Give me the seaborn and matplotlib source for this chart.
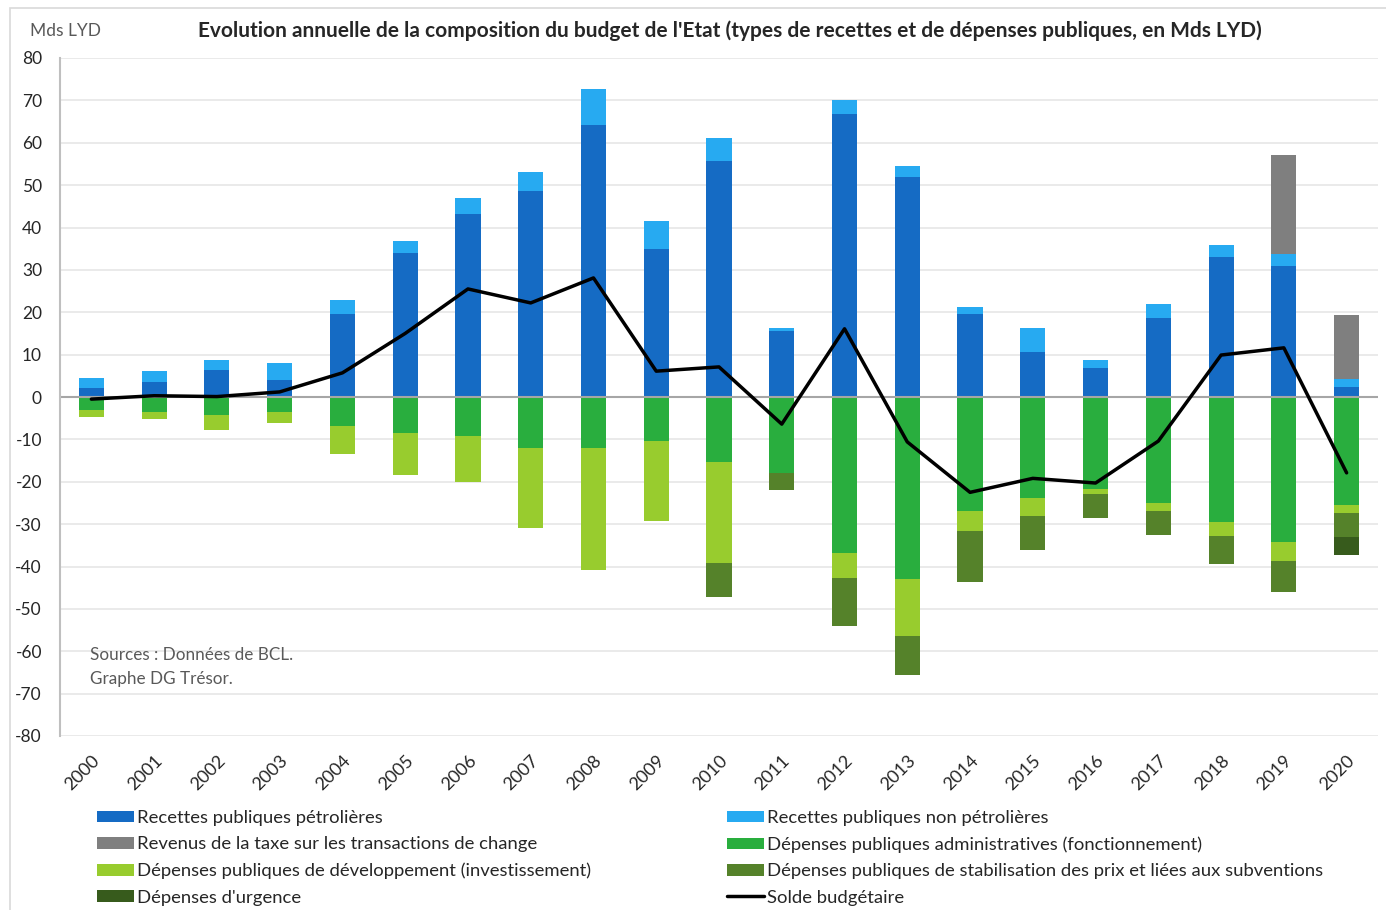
import matplotlib
matplotlib.use("Agg")
import matplotlib.pyplot as plt
from matplotlib.patches import Patch, Rectangle
from matplotlib.lines import Line2D
import seaborn as sns
import pandas as pd
import numpy as np

# Budget de l'Etat libyen, Mds LYD
years = [str(y) for y in range(2000, 2021)]

rec_petrol = [2.1, 3.5, 6.4, 4.0, 19.6, 34.0, 43.3, 48.5, 64.3, 35.0, 55.6,
              15.6, 66.9, 51.8, 19.6, 10.6, 6.9, 18.7, 33.1, 31.0, 2.4]
rec_non_petrol = [2.4, 2.6, 2.3, 4.0, 3.3, 2.9, 3.7, 4.7, 8.5, 6.6, 5.6,
                  0.7, 3.3, 2.8, 1.7, 5.7, 1.8, 3.3, 2.8, 2.8, 1.9]
taxe_change = [0, 0, 0, 0, 0, 0, 0, 0, 0, 0, 0,
               0, 0, 0, 0, 0, 0, 0, 0, 23.4, 15.1]

dep_admin = [-3.1, -3.5, -4.3, -3.5, -6.9, -8.5, -9.2, -12.0, -12.0, -10.3, -15.4,
             -17.9, -36.9, -43.0, -27.0, -23.9, -21.7, -25.1, -29.6, -34.3, -25.5]
dep_dev = [-1.6, -1.6, -3.5, -2.6, -6.6, -9.9, -10.9, -19.0, -28.9, -19.0, -23.8,
           0, -5.7, -13.3, -4.6, -4.2, -1.3, -1.9, -3.3, -4.5, -1.9]
dep_stab = [0, 0, 0, 0, 0, 0, 0, 0, 0, 0, -8.1,
            -4.1, -11.5, -9.2, -12.1, -8.1, -5.6, -5.6, -6.6, -7.3, -5.7]
dep_urgence = [0, 0, 0, 0, 0, 0, 0, 0, 0, 0, 0,
               0, 0, 0, 0, 0, 0, 0, 0, 0, -4.3]

solde = [-0.5, 0.3, 0.1, 1.2, 5.7, 15.0, 25.5, 22.2, 28.1, 6.1, 7.1,
         -6.4, 16.1, -10.6, -22.5, -19.2, -20.3, -10.4, 9.9, 11.6, -17.9]

labels = ["Recettes publiques pétrolières",
          "Recettes publiques non pétrolières",
          "Revenus de la taxe sur les transactions de change",
          "Dépenses publiques administratives (fonctionnement)",
          "Dépenses publiques de développement (investissement)",
          "Dépenses publiques de stabilisation des prix et liées aux subventions",
          "Dépenses d'urgence",
          "Solde budgétaire"]
colors = ["#156BC4", "#27AAF1", "#7F7F7F", "#29AE3E",
          "#98CC2E", "#55822A", "#375B1C", "#000000"]

sns.set_theme(style="white")
plt.rcParams["font.family"] = ["Lato", "DejaVu Sans"]
plt.rcParams["axes.unicode_minus"] = False

fig = plt.figure(figsize=(13.86, 9.1), dpi=100)
ax = fig.add_axes([60 / 1386, 1 - 736 / 910, 1318 / 1386, 678 / 910])

# stacked bars: draw cumulated totals, biggest first
pos = np.cumsum([rec_petrol, rec_non_petrol, taxe_change], axis=0)
neg = np.cumsum([dep_admin, dep_dev, dep_stab, dep_urgence], axis=0)
stacks = [(pos[2], colors[2]), (pos[1], colors[1]), (pos[0], colors[0]),
          (neg[3], colors[6]), (neg[2], colors[5]), (neg[1], colors[4]), (neg[0], colors[3])]
for vals, c in stacks:
    df = pd.DataFrame({"annee": years, "val": vals})
    sns.barplot(data=df, x="annee", y="val", color=c, saturation=1, width=0.4,
                linewidth=0, ax=ax, errorbar=None)

sns.lineplot(x=np.arange(len(years)), y=solde, color="black", linewidth=2.5, ax=ax)

ax.set_xlim(-0.5, 20.5)
ax.set_ylim(-80, 80)
ax.set_yticks(range(-80, 81, 10))
ax.yaxis.grid(True, color="#E6E6E6", linewidth=1.2)
ax.set_axisbelow(True)
ax.axhline(0, color="#A6A6A6", linewidth=1.5, zorder=1.5)
for s in ["top", "right", "bottom"]:
    ax.spines[s].set_visible(False)
ax.spines["left"].set_color("#BFBFBF")
ax.spines["left"].set_linewidth(1.5)
ax.set_xlabel("")
ax.set_ylabel("")
ax.tick_params(axis="y", length=0, pad=13, labelsize=12.5, labelcolor="#262626")
ax.tick_params(axis="x", length=0, pad=12, labelsize=13, labelcolor="#262626")
plt.setp(ax.get_xticklabels(), rotation=45, ha="right", rotation_mode="anchor")

fig.text(30 / 1386, 1 - 31 / 910, "Mds LYD", fontsize=12.5, color="#595959", va="center")
fig.text(730 / 1386, 1 - 31 / 910,
         "Evolution annuelle de la composition du budget de l'Etat (types de recettes et de dépenses publiques, en Mds LYD)",
         fontsize=15, fontweight="bold", color="#262626", ha="center", va="center")
ax.text(90 / 1386, 1 - 667 / 910, "Sources : Données de BCL.\nGraphe DG Trésor.",
        transform=fig.transFigure, fontsize=12.3, color="#595959", va="center", linespacing=1.6)

# figure frame
fig.patches.append(Rectangle((10 / 1386, -0.01), 1.0, 1 - 8 / 910 + 0.01, transform=fig.transFigure,
                             fill=False, edgecolor="#D9D9D9", linewidth=1.2))

def handle(i):
    if i == 7:
        return Line2D([], [], color="black", linewidth=2.5)
    return Patch(facecolor=colors[i], edgecolor="none")

leg_opts = dict(frameon=False, fontsize=13.3, handlelength=2.0, handleheight=0.6,
                handletextpad=0.15, labelspacing=0.56, borderaxespad=0, borderpad=0)
col1 = [0, 2, 4, 6]
col2 = [1, 3, 5, 7]
leg1 = fig.legend([handle(i) for i in col1], [labels[i] for i in col1],
                  loc="upper left", bbox_to_anchor=(97 / 1386, 1 - 810 / 910), **leg_opts)
leg2 = fig.legend([handle(i) for i in col2], [labels[i] for i in col2],
                  loc="upper left", bbox_to_anchor=(727 / 1386, 1 - 810 / 910), **leg_opts)
for leg in (leg1, leg2):
    for t in leg.get_texts():
        t.set_color("#262626")

fig.savefig("out.png", dpi=100)
